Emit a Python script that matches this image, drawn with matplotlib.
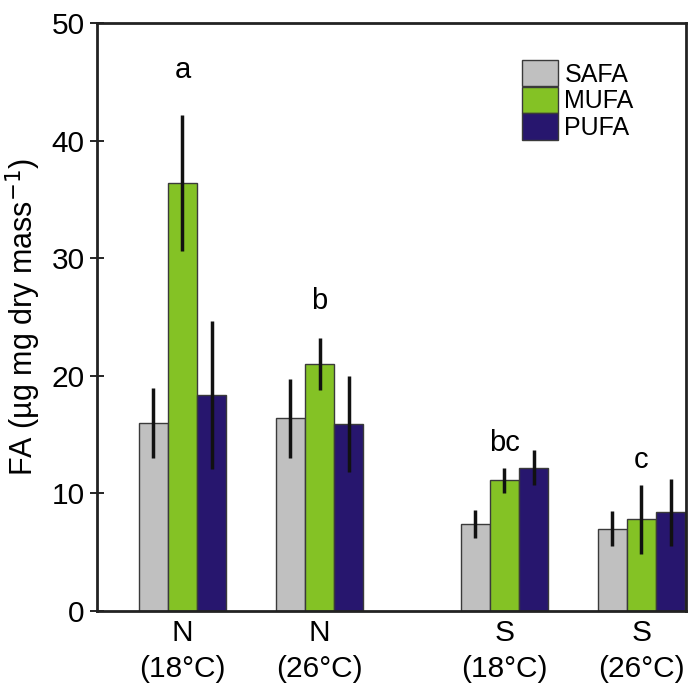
import matplotlib
matplotlib.use("Agg")
import matplotlib.pyplot as plt
import numpy as np

plt.rcParams['font.family'] = ['Liberation Sans', 'DejaVu Sans']

groups = ["N\n(18°C)", "N\n(26°C)", "S\n(18°C)", "S\n(26°C)"]
series = ["SAFA", "MUFA", "PUFA"]
safa = [16.0, 16.4, 7.4, 7.0]
mufa = [36.4, 21.0, 11.1, 7.8]
pufa = [18.4, 15.9, 12.2, 8.4]
safa_err = [2.95, 3.35, 1.2, 1.5]
mufa_err = [5.75, 2.2, 1.05, 2.95]
pufa_err = [6.3, 4.1, 1.5, 2.85]
letters = ["a", "b", "bc", "c"]
letter_y = [46.0, 26.4, 14.3, 12.8]

colors = ["#c0c0c0", "#84c225", "#27166e"]
pos = np.array([0, 1, 2.35, 3.35])
w = 0.212

fig = plt.figure(figsize=(6.88, 6.95), dpi=100)
ax = fig.add_axes([97/688, 1-611/695, (686-97)/688, (611-23)/695])

vals = [safa, mufa, pufa]
errs = [safa_err, mufa_err, pufa_err]
for i, (v, e, c, name) in enumerate(zip(vals, errs, colors, series)):
    x = pos + (i-1)*w
    ax.bar(x, v, width=w, color=c, edgecolor="#3a3a3a", linewidth=1.0, label=name, zorder=2)
    ax.errorbar(x, v, yerr=e, fmt='none', ecolor='#111111', elinewidth=2.5, capsize=0, zorder=3)

for p, l, y in zip(pos, letters, letter_y):
    ax.text(p, y, l, ha='center', va='center', fontsize=21)

ax.set_xlim(-0.624, 3.675)
ax.set_ylim(0, 50)
ax.set_yticks([0, 10, 20, 30, 40, 50])
ax.tick_params(axis='y', direction='inout', length=10, width=1.2, labelsize=21.5, pad=4)
ax.set_xticks(pos)
ax.set_xticklabels(groups, fontsize=21.5, linespacing=1.35)
ax.tick_params(axis='x', length=0, pad=6)
for s in ax.spines.values():
    s.set_linewidth(2)
    s.set_color('#222222')

ax.set_ylabel("FA (µg mg dry mass$^{-1}$)", fontsize=22, labelpad=6)

leg = ax.legend(loc='upper left', bbox_to_anchor=((522-97)/589, (611-60)/588), frameon=False, fontsize=18,
                handlelength=1.45, handleheight=1.25, labelspacing=0.0, handletextpad=0.25,
                borderaxespad=0.0, borderpad=0.0)
for h in leg.legend_handles:
    h.set_edgecolor("#3a3a3a")

fig.savefig("out.png", dpi=100)
